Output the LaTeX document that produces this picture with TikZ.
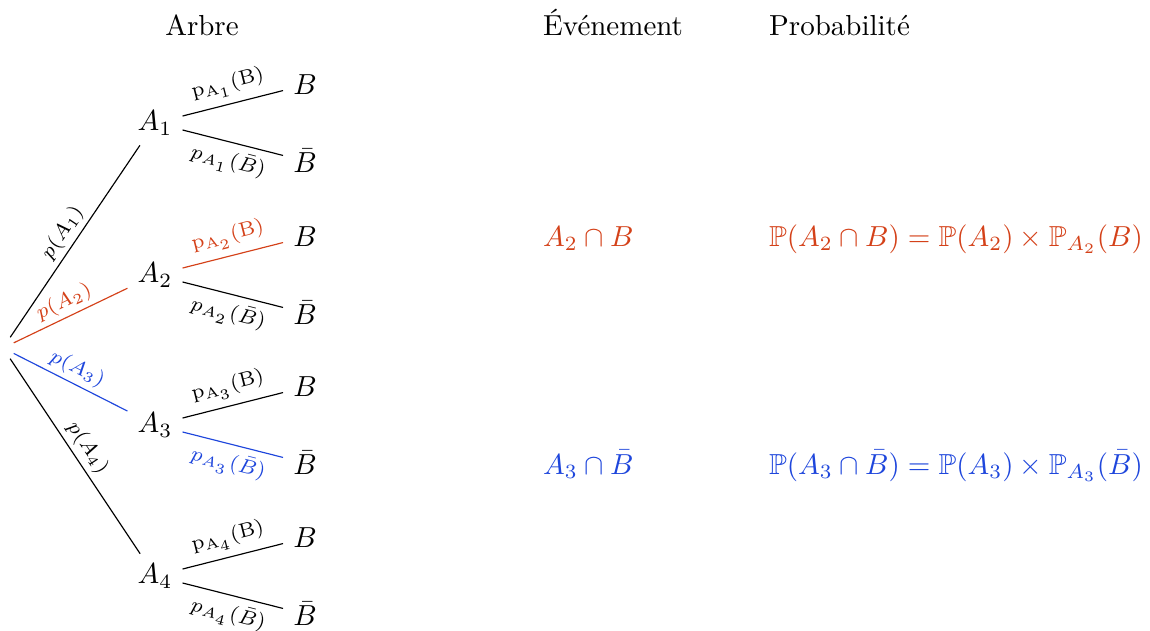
\documentclass[tikz,border=0pt]{standalone}
\usepackage{amsmath,amssymb}
\usepackage{xcolor}
\usepackage{tikz}
\usetikzlibrary{positioning,calc}
\definecolor{arbrered}{RGB}{212,65,25}
\definecolor{arbreblue}{RGB}{30,70,220}

\begin{document}
\begin{tikzpicture}[x=0.345pt,y=-0.345pt,
  lab/.style={sloped,font=\scriptsize,inner sep=1.5pt},
  sublab/.style={sloped,font=\scriptsize,inner sep=2.5pt}]
  \useasboundingbox (0,0) rectangle (1150,630);
  \node[anchor=base] (hArbre) at (202,35) {Arbre};
  \node[anchor=base west] (hEvt) at (533,35) {Événement};
  \node[anchor=base west] (hProba) at (759,35) {Probabilité};
  \node[inner sep=3.5pt] (O) at (3,348) {};
  \foreach \i/\y/\ca/\cb/\cc in {1/123/black/black/black,2/275/arbrered/arbrered/black,
                                  3/425/arbreblue/black/arbreblue,4/576/black/black/black}{
    \node (A\i) at (155,\y) {$A_\i$};
    \node (B\i) at (305,\y-38) {$B$};
    \node (C\i) at (305,\y+38) {$\bar{B}$};
    \draw[\ca] (O) -- node[lab,above] {$p(A_\i)$} (A\i);
    \draw[\cb] (A\i) -- node[sublab,above] {$\mathrm{p}_{\mathrm{A}_\i}(\mathrm{B})$} (B\i);
    \draw[\cc] (A\i) -- node[sublab,below] {$p_{A_\i}(\bar{B})$} (C\i);
  }
  \node[arbrered,anchor=base west] (E2) at (533,246) {$A_2\cap B$};
  \node[arbrered,anchor=base west] (P2) at (759,246) {$\mathbb{P}(A_2\cap B)=\mathbb{P}(A_2)\times\mathbb{P}_{A_2}(B)$};
  \node[arbreblue,anchor=base west] (E3) at (533,474) {$A_3\cap \bar{B}$};
  \node[arbreblue,anchor=base west] (P3) at (759,474) {$\mathbb{P}(A_3\cap \bar{B})=\mathbb{P}(A_3)\times\mathbb{P}_{A_3}(\bar{B})$};
\end{tikzpicture}
\end{document}
